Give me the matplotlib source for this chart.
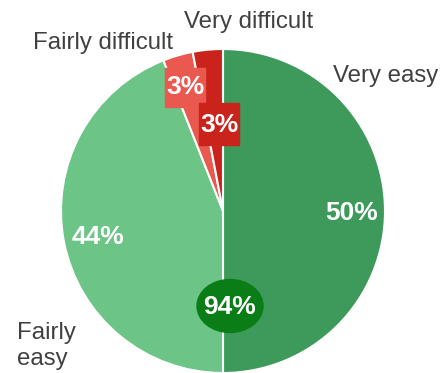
import matplotlib
matplotlib.use("Agg")
import matplotlib.pyplot as plt
from matplotlib.patches import Ellipse, Rectangle

plt.rcParams['font.family'] = ['Liberation Sans', 'DejaVu Sans']

categories = ["Very easy", "Fairly easy", "Fairly difficult", "Very difficult"]
values = [50, 44, 3, 3]
pct_labels = ["50%", "44%", "3%", "3%"]
easy_total_label = "94%"
colors = ["#3d9a5b", "#6cc487", "#e9594f", "#c9231b"]

W, H = 442, 373
fig = plt.figure(figsize=(W / 100, H / 100), dpi=100)
ax = fig.add_axes([0, 0, 1, 1])

def Y(y):
    # top-down pixel row -> axes y
    return H - y

cx, cy, r = 223, 211, 162
ax.pie(values, colors=colors, startangle=90, counterclock=False,
       center=(cx, Y(cy)), radius=r,
       wedgeprops=dict(edgecolor="white", linewidth=1.5))
ax.set_xlim(0, W)
ax.set_ylim(0, H)
ax.set_aspect("equal")
ax.axis("off")

label_color = "#404040"
lab_kw = dict(fontsize=17.3, color=label_color, va="center")
ax.text(386, Y(76), categories[0], ha="center", **lab_kw)
ax.text(17, Y(346), "Fairly\neasy", ha="left", linespacing=1.2, **lab_kw)
ax.text(103, Y(43), categories[2], ha="center", **lab_kw)
ax.text(249, Y(22), categories[3], ha="center", **lab_kw)

pct_kw = dict(fontsize=19, color="white", fontweight="bold", ha="center", va="center")
ax.text(352, Y(213), pct_labels[0], **pct_kw)
ax.text(98.5, Y(237.5), pct_labels[1], **pct_kw)

# boxed labels for the small slices
ax.add_patch(Rectangle((165, Y(107)), 40, 39, color=colors[2], zorder=3))
ax.text(185, Y(87), pct_labels[2], zorder=4, **pct_kw)
ax.add_patch(Rectangle((199, Y(145)), 40, 42, color=colors[3], zorder=3))
ax.text(219, Y(125), pct_labels[3], zorder=4, **pct_kw)

# combined "easy" share
ax.add_patch(Ellipse((230, Y(306)), 66, 53, color="#0a7d17", zorder=3))
ax.text(230, Y(307), easy_total_label, zorder=4, **pct_kw)

fig.savefig("out.png", dpi=100)
